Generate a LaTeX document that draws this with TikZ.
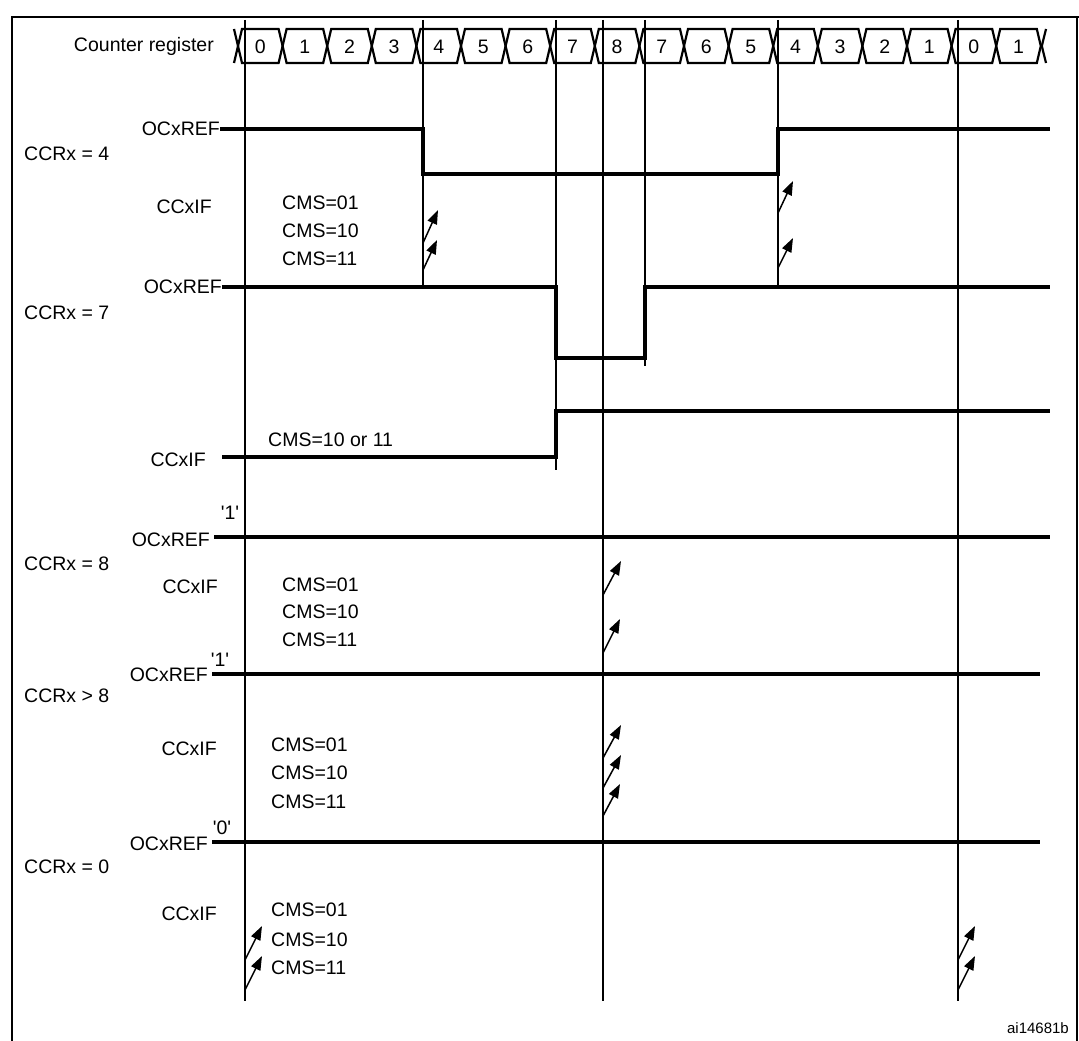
\documentclass[tikz,border=0pt]{standalone}
\usepackage{fontspec}
\setmainfont{Liberation Sans}
\usetikzlibrary{arrows.meta}
\begin{document}
\begin{tikzpicture}[x=1pt,y=-1pt,
  lbl/.style={font=\fontsize{19.5}{22}\selectfont,inner sep=0pt},
  sig/.style={line width=3.6pt},
  vl/.style={line width=1.5pt},
  flag/.style={line width=1.5pt,-{Triangle[length=14pt,width=10pt]}}]
\useasboundingbox (0,0) rectangle (1079,1041);
\draw[line width=1.5pt] (12,1041) -- (12,17) -- (1079,17);
\draw[line width=1.5pt] (1077,17) -- (1077,1041);
% counter
\node[lbl,anchor=east] (cr) at (214,46) {Counter register};
\foreach \v [count=\i from 0] in {0,1,2,3,4,5,6,7,8,7,6,5,4,3,2,1,0,1}{
  \pgfmathsetmacro{\a}{245+44.6*\i-7}
  \pgfmathsetmacro{\c}{245+44.6*(\i+1)-7}
  \draw[line width=2.2pt] (\a,46) -- (\a+4,29) -- (\c-4,29) -- (\c,46) -- (\c-4,63) -- (\a+4,63) -- cycle;
  \node[lbl] (c\i) at ({(\a+\c)/2},47) {\v};
}
\draw[line width=2.2pt] (234,29) -- (238,46) -- (234,63);
\draw[line width=2.2pt] (1046,29) -- (1041.8,46) -- (1046,63);
% vertical lines
\coordinate (v0t) at (245,20); \coordinate (v0b) at (245,1001);
\draw[vl] (v0t) -- (v0b);
\draw[vl] (423,20) -- (423,288);
\draw[vl] (556,20) -- (556,470);
\draw[vl] (603,20) -- (603,1001);
\draw[vl] (645,20) -- (645,366);
\draw[vl] (778,20) -- (778,288);
\draw[vl] (958,20) -- (958,1001);
% CCRx = 4
\node[lbl,anchor=east] (o1) at (220,129) {OCxREF};
\node[lbl,anchor=west] (r1) at (24,154) {CCRx = 4};
\draw[sig] (o1.east) -- (423,129) -- (423,174) -- (778,174) -- (778,129) -- (1050,129);
\node[lbl,anchor=east] (f1) at (212,207) {CCxIF};
\node[lbl,anchor=west] at (282,203) {CMS=01};
\node[lbl,anchor=west] at (282,231) {CMS=10};
\node[lbl,anchor=west] at (282,259) {CMS=11};
\draw[flag] (423,243) -- (438,210);
\draw[flag] (423,270) -- (437,240);
\draw[flag] (778,213) -- (793,181);
\draw[flag] (778,268) -- (793,238);
% CCRx = 7
\node[lbl,anchor=east] (o2) at (222,287) {OCxREF};
\node[lbl,anchor=west] (r2) at (24,313) {CCRx = 7};
\draw[sig] (o2.east) -- (556,287) -- (556,358) -- (645,358) -- (645,287) -- (1050,287);
\node[lbl,anchor=east] (f2) at (206,460) {CCxIF};
\node[lbl,anchor=west] at (268,440) {CMS=10 or 11};
\draw[sig] (222,457) -- (556,457) -- (556,411) -- (1050,411);
% CCRx = 8
\node[lbl] at (230,513) {\textquotesingle1\textquotesingle};
\node[lbl,anchor=east] (o3) at (210,540) {OCxREF};
\node[lbl,anchor=west] (r3) at (24,564) {CCRx = 8};
\draw[sig] (214,537) -- (1050,537);
\node[lbl,anchor=east] (f3) at (218,587) {CCxIF};
\node[lbl,anchor=west] at (282,585) {CMS=01};
\node[lbl,anchor=west] at (282,612) {CMS=10};
\node[lbl,anchor=west] at (282,640) {CMS=11};
\draw[flag] (603,595) -- (621,561);
\draw[flag] (603,653) -- (620,619);
% CCRx > 8
\node[lbl] at (220,660) {\textquotesingle1\textquotesingle};
\node[lbl,anchor=east] (o4) at (208,675) {OCxREF};
\node[lbl,anchor=west] (r4) at (24,696) {CCRx > 8};
\draw[sig] (212,674) -- (1040,674);
\node[lbl,anchor=east] (f4) at (217,749) {CCxIF};
\node[lbl,anchor=west] at (271,745) {CMS=01};
\node[lbl,anchor=west] at (271,773) {CMS=10};
\node[lbl,anchor=west] at (271,802) {CMS=11};
\draw[flag] (603,758) -- (621,725);
\draw[flag] (603,788) -- (621,755);
\draw[flag] (603,816) -- (620,784);
% CCRx = 0
\node[lbl] at (222,828) {\textquotesingle0\textquotesingle};
\node[lbl,anchor=east] (o5) at (208,844) {OCxREF};
\node[lbl,anchor=west] (r5) at (24,867) {CCRx = 0};
\draw[sig] (212,842) -- (1040,842);
\node[lbl,anchor=east] (f5) at (217,914) {CCxIF};
\node[lbl,anchor=west] at (271,910) {CMS=01};
\node[lbl,anchor=west] at (271,940) {CMS=10};
\node[lbl,anchor=west] at (271,968) {CMS=11};
\draw[flag] (245,960) -- (262,926);
\draw[flag] (245,990) -- (262,956);
\draw[flag] (958,960) -- (975,926);
\draw[flag] (958,990) -- (975,956);
\node[lbl,anchor=east,font=\fontsize{15}{17}\selectfont] at (1069,1028) {ai14681b};
\end{tikzpicture}
\end{document}
